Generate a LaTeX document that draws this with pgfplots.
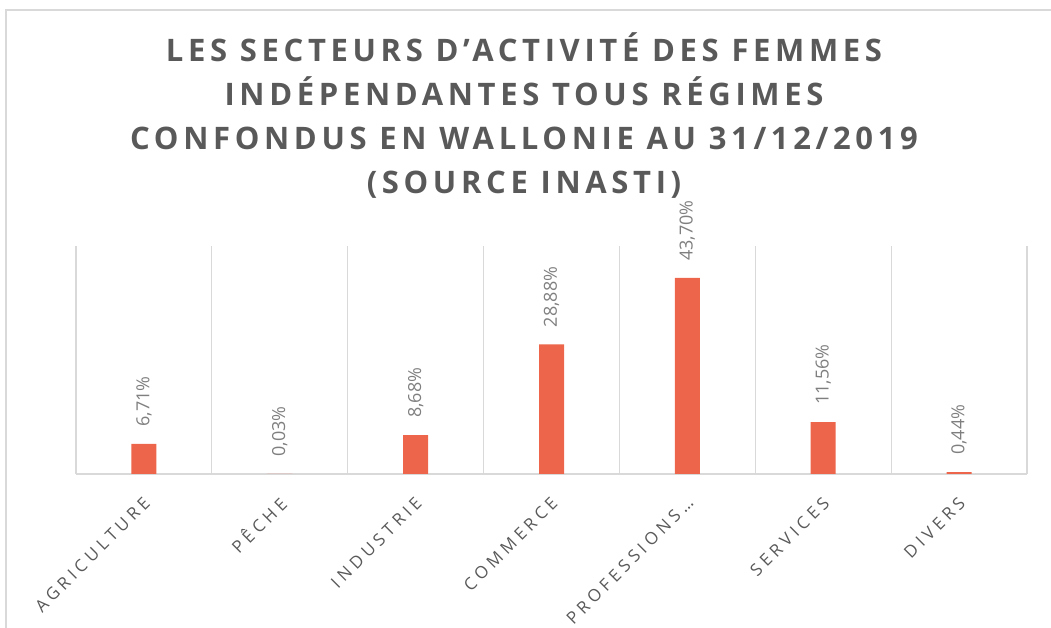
\documentclass[border=0pt]{standalone}
\usepackage{fontspec}
\setmainfont{Open Sans}
\newfontfamily\titlefont[LetterSpace=15]{Open Sans}
\newfontfamily\tickfont[LetterSpace=25]{Open Sans}
\usepackage{pgfplots}
\pgfplotsset{compat=1.18}
\definecolor{barc}{HTML}{ED654A}
\definecolor{txt}{HTML}{595959}
\definecolor{lbl}{HTML}{7F7F7F}
\definecolor{gridc}{HTML}{D9D9D9}
\begin{document}
\begin{tikzpicture}[x=1pt,y=1pt]
\path[use as bounding box] (0,0) rectangle (1051,628);
\draw[gridc, line width=1.5pt] (6,0) -- (6,618) -- (1051,618);
\node[anchor=base, font=\titlefont\bfseries\fontsize{31}{36}\selectfont, text=txt] at (524,566) {LES SECTEURS D’ACTIVITÉ DES FEMMES};
\node[anchor=base, font=\titlefont\bfseries\fontsize{31}{36}\selectfont, text=txt] at (524,522) {INDÉPENDANTES TOUS RÉGIMES};
\node[anchor=base, font=\titlefont\bfseries\fontsize{31}{36}\selectfont, text=txt] at (524,478) {CONFONDUS EN WALLONIE AU 31/12/2019};
\node[anchor=base, font=\titlefont\bfseries\fontsize{31}{36}\selectfont, text=txt] at (524,434) {(SOURCE INASTI)};
\begin{axis}[
  at={(76pt,154pt)}, anchor=south west,
  scale only axis, width=951pt, height=228pt,
  xmin=-0.5, xmax=6.5, ymin=0, ymax=50.8,
  ybar, bar width=25pt,
  axis y line=none, axis x line=bottom,
  axis line style={-, draw=gridc, line width=1.2pt},
  xtick={0,...,6},
  xticklabels={AGRICULTURE, PÊCHE, INDUSTRIE, COMMERCE, PROFESSIONS…, SERVICES, DIVERS},
  major tick length=0pt, minor tick length=0pt,
  minor xtick={-0.5,0.5,...,6.5},
  xminorgrids=true,
  minor grid style={draw=gridc, line width=1.2pt},
  clip=false,
  point meta=explicit symbolic,
  nodes near coords,
  nodes near coords style={font=\fontsize{18}{22}\selectfont, text=lbl, rotate=90, anchor=west, inner xsep=17pt, inner ysep=0pt},
  xticklabel style={font=\tickfont\fontsize{17}{20}\selectfont, text=txt, xshift=3pt, yshift=-26pt, rotate=45, anchor=east, inner sep=0pt},
]
\addplot[fill=barc, draw=none] table[meta=lab] {
x y lab
0 6.71 {6,71\%}
1 0.03 {0,03\%}
2 8.68 {8,68\%}
3 28.88 {28,88\%}
4 43.70 {43,70\%}
5 11.56 {11,56\%}
6 0.44 {0,44\%}
};
\end{axis}
\end{tikzpicture}
\end{document}
